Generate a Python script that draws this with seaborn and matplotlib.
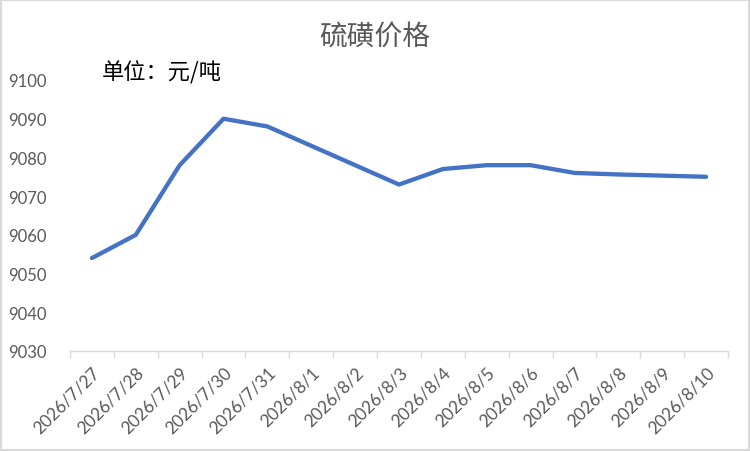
import matplotlib
matplotlib.use("Agg")
import matplotlib.pyplot as plt
import seaborn as sns
import pandas as pd
from matplotlib.patches import Rectangle
from matplotlib.ticker import FixedLocator

dates = ["2026/7/27", "2026/7/28", "2026/7/29", "2026/7/30", "2026/7/31",
         "2026/8/1", "2026/8/2", "2026/8/3", "2026/8/4", "2026/8/5",
         "2026/8/6", "2026/8/7", "2026/8/8", "2026/8/9", "2026/8/10"]
prices = [9054, 9060, 9078, 9090, 9088, 9083, 9078, 9073, 9077, 9078,
          9078, 9076, 9075.6, 9075.3, 9075]
yticks = [9030, 9040, 9050, 9060, 9070, 9080, 9090, 9100]

title = "硫磺价格"
unit = "单位：元/吨"

sns.set_theme(style="white")
plt.rcParams['font.family'] = ['Noto Sans CJK SC', 'DejaVu Sans']

df = pd.DataFrame({"idx": range(len(dates)), "date": dates, "price": prices})

fig = plt.figure(figsize=(7.5, 4.52), dpi=100)
ax = fig.add_axes([70/750, 1-352/452, (728-70)/750, (352-81)/452])

sns.lineplot(data=df, x="idx", y="price", ax=ax, color="#4472C4",
             linewidth=3.1, solid_joinstyle="round", solid_capstyle="round")

ax.set_xlim(-0.5, len(dates) - 0.5)
ax.set_ylim(yticks[0], yticks[-1])
ax.set_yticks(yticks)
ax.set_yticklabels([str(v) for v in yticks], family=['Lato', 'DejaVu Sans'],
                   fontsize=12, color="#595959")
ax.set_xticks(range(len(dates)))
ax.set_xticklabels(dates, rotation=45, ha="right", rotation_mode="anchor",
                   family=['Lato', 'DejaVu Sans'], fontsize=12.5, color="#595959")
ax.xaxis.set_minor_locator(FixedLocator([i - 0.5 for i in range(len(dates) + 1)]))
ax.tick_params(axis="x", which="major", length=0, pad=9)
ax.tick_params(axis="x", which="minor", length=5, color="#d9d9d9", width=1, bottom=True)
ax.tick_params(axis="y", length=0, pad=17)
ax.set_xlabel("")
ax.set_ylabel("")
ax.grid(False)
for s in ["top", "right", "left"]:
    ax.spines[s].set_visible(False)
ax.spines["bottom"].set_color("#d9d9d9")
ax.spines["bottom"].set_linewidth(1)

fig.text(0.5, 1 - 37/452, title, ha="center", va="center", fontsize=20, color="#595959")
fig.text(102/750, 1 - 73/452, unit, ha="left", va="center", fontsize=16, color="#000000")

fig.patches.append(Rectangle((0.001, 0.002), 0.997, 0.995, transform=fig.transFigure,
                             fill=False, edgecolor="#d9d9d9", linewidth=1.5))

fig.savefig("out.png", dpi=100)
